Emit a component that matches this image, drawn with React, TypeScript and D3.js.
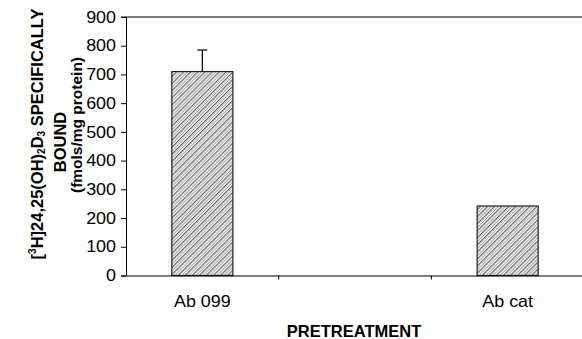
import { useEffect, useRef } from 'react';
import * as d3 from 'd3';

const categories = ['Ab 099', '', 'Ab cat'];
const boundValues = [710, null, 242];
const errorValues = [75, null, null];
const yTicks = [0, 100, 200, 300, 400, 500, 600, 700, 800, 900];

const App = () => {
  const ref = useRef<SVGSVGElement>(null);

  useEffect(() => {
    const svg = d3.select(ref.current);
    svg.selectAll('*').remove();

    const left = 126, right = 584, top = 17, bottom = 275.5;
    const font = 'Liberation Sans, Arial, sans-serif';

    const x = d3.scaleBand().domain(categories).range([left, right]).padding(0);
    const y = d3.scaleLinear().domain([0, 900]).range([bottom, top]);

    const defs = svg.append('defs');
    const pat = defs.append('pattern')
      .attr('id', 'hatch')
      .attr('patternUnits', 'userSpaceOnUse')
      .attr('width', 5)
      .attr('height', 5)
      .attr('patternTransform', 'rotate(45)');
    pat.append('rect').attr('width', 5).attr('height', 5).attr('fill', '#fff');
    pat.append('line').attr('x1', 0.8).attr('y1', 0).attr('x2', 0.8).attr('y2', 5)
      .attr('stroke', '#333').attr('stroke-width', 1);
    pat.append('line').attr('x1', 3.3).attr('y1', 0).attr('x2', 3.3).attr('y2', 5)
      .attr('stroke', '#999').attr('stroke-width', 1);

    // top border
    svg.append('line')
      .attr('x1', left - 5).attr('x2', 582).attr('y1', top).attr('y2', top)
      .attr('stroke', '#000').attr('stroke-width', 1);

    // bars
    const barW = x.bandwidth() * 0.4;
    categories.forEach((c, i) => {
      const v = boundValues[i];
      if (v == null) return;
      const cx = x(c)! + x.bandwidth() / 2;
      svg.append('rect')
        .attr('x', cx - barW / 2)
        .attr('y', y(v))
        .attr('width', barW)
        .attr('height', y(0) - y(v))
        .attr('fill', 'url(#hatch)')
        .attr('stroke', '#222')
        .attr('stroke-width', 1.2);
      const e = errorValues[i];
      if (e != null) {
        svg.append('line')
          .attr('x1', cx).attr('x2', cx).attr('y1', y(v)).attr('y2', y(v + e))
          .attr('stroke', '#000').attr('stroke-width', 1.2);
        svg.append('line')
          .attr('x1', cx - 5).attr('x2', cx + 5).attr('y1', y(v + e)).attr('y2', y(v + e))
          .attr('stroke', '#000').attr('stroke-width', 1.2);
      }
    });

    // y axis
    const yAxis = svg.append('g')
      .attr('transform', `translate(${left},0)`)
      .call(d3.axisLeft(y).tickValues(yTicks).tickSize(5).tickFormat(d3.format('d')));
    yAxis.select('.domain').attr('stroke', '#000');
    yAxis.selectAll('.tick line').attr('stroke', '#000');
    yAxis.selectAll('text').attr('font-family', font).attr('font-size', 16).attr('fill', '#000')
      .attr('transform', 'scale(1.12,1)').attr('x', -10 / 1.12);

    // x axis
    const xAxis = svg.append('g')
      .attr('transform', `translate(0,${bottom})`)
      .call(d3.axisBottom(x).tickSize(0));
    xAxis.select('.domain').attr('stroke', '#000').attr('stroke-width', 1.2);
    xAxis.selectAll('.tick text')
      .attr('font-family', font).attr('font-size', 16).attr('fill', '#000')
      .attr('y', 0).attr('dy', 0)
      .attr('transform', 'translate(0,31) scale(1.12,1)');
    // ticks between categories
    xAxis.selectAll('.sep')
      .data(categories.slice(1))
      .enter()
      .append('line')
      .attr('x1', (d) => x(d)!)
      .attr('x2', (d) => x(d)!)
      .attr('y1', 0)
      .attr('y2', 4)
      .attr('stroke', '#000');

    svg.append('text')
      .attr('x', 354).attr('y', 337)
      .attr('text-anchor', 'middle')
      .attr('font-family', font).attr('font-weight', 'bold').attr('font-size', 16.5)
      .text('PRETREATMENT');

    // y title
    const title = svg.append('text')
      .attr('transform', 'translate(0,134) rotate(-90)')
      .attr('text-anchor', 'middle')
      .attr('font-family', font).attr('font-weight', 'bold').attr('font-size', 16.5);
    const l1 = title.append('tspan').attr('x', 0).attr('y', 43);
    l1.append('tspan').text('[');
    l1.append('tspan').attr('font-size', 10).attr('dy', -7).text('3');
    l1.append('tspan').attr('dy', 7).text('H]24,25(OH)');
    l1.append('tspan').attr('font-size', 10).attr('dy', 2).text('2');
    l1.append('tspan').attr('dy', -2).text('D');
    l1.append('tspan').attr('font-size', 10).attr('dy', 2).text('3');
    l1.append('tspan').attr('dy', -2).text(' SPECIFICALLY');
    title.append('tspan').attr('x', -8).attr('y', 66).text('BOUND');
    title.append('tspan').attr('x', 9).attr('y', 82).attr('font-size', 15.5).text('(fmols/mg protein)');
  }, []);

  return (
    <svg
      ref={ref}
      width={582}
      height={339}
      style={{ position: 'absolute', left: 0, top: 0, background: '#fff' }}
    />
  );
};

export default App;
